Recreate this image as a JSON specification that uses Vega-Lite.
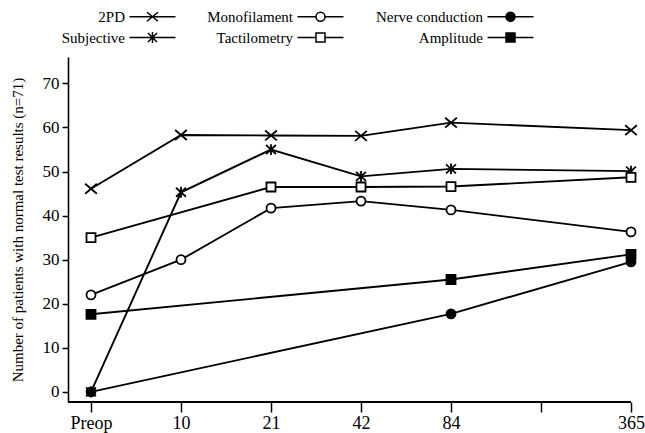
{
  "$schema": "https://vega.github.io/schema/vega-lite/v6.json",
  "width": 563,
  "height": 345,
  "autosize": "none",
  "padding": {"left": 68, "top": 57, "right": 14, "bottom": 31},
  "background": "white",
  "config": {"view": {"stroke": null}, "font": "Liberation Serif"},
  "data": {
    "values": [
      {"series": "2PD", "time": "Preop", "n": 46.1},
      {"series": "2PD", "time": "10", "n": 58.3},
      {"series": "2PD", "time": "21", "n": 58.2},
      {"series": "2PD", "time": "42", "n": 58.1},
      {"series": "2PD", "time": "84", "n": 61.1},
      {"series": "2PD", "time": "365", "n": 59.4},
      {"series": "Monofilament", "time": "Preop", "n": 22},
      {"series": "Monofilament", "time": "10", "n": 30},
      {"series": "Monofilament", "time": "21", "n": 41.7},
      {"series": "Monofilament", "time": "42", "n": 43.3},
      {"series": "Monofilament", "time": "84", "n": 41.3},
      {"series": "Monofilament", "time": "365", "n": 36.3},
      {"series": "Nerve conduction", "time": "Preop", "n": 0},
      {"series": "Nerve conduction", "time": "84", "n": 17.7},
      {"series": "Nerve conduction", "time": "365", "n": 29.5},
      {"series": "Subjective", "time": "Preop", "n": 0},
      {"series": "Subjective", "time": "10", "n": 45.3},
      {"series": "Subjective", "time": "21", "n": 55},
      {"series": "Subjective", "time": "42", "n": 48.9},
      {"series": "Subjective", "time": "84", "n": 50.6},
      {"series": "Subjective", "time": "365", "n": 50.1},
      {"series": "Tactilometry", "time": "Preop", "n": 35},
      {"series": "Tactilometry", "time": "21", "n": 46.5},
      {"series": "Tactilometry", "time": "42", "n": 46.5},
      {"series": "Tactilometry", "time": "84", "n": 46.6},
      {"series": "Tactilometry", "time": "365", "n": 48.7},
      {"series": "Amplitude", "time": "Preop", "n": 17.6},
      {"series": "Amplitude", "time": "84", "n": 25.5},
      {"series": "Amplitude", "time": "365", "n": 31.2}
    ]
  },
  "encoding": {
    "x": {
      "field": "time",
      "type": "ordinal",
      "scale": {"type": "point", "domain": ["Preop", "10", "21", "42", "84", " ", "365"], "range": [23, 563], "padding": 0},
      "axis": {"title": null, "domain": false, "labelAngle": 0, "labelFontSize": 18, "labelColor": "black", "tickColor": "black", "tickSize": 10, "tickWidth": 1.5, "labelPadding": 2, "grid": false}
    },
    "y": {
      "field": "n",
      "type": "quantitative",
      "scale": {"domain": [-2.3, 76], "nice": false, "zero": false},
      "axis": {
        "title": "Number of patients with normal test results (n=71)",
        "titleFontSize": 15,
        "titleFontWeight": "normal",
        "titleColor": "black",
        "titlePadding": 17,
        "values": [0, 10, 20, 30, 40, 50, 60, 70],
        "labelFontSize": 17,
        "labelColor": "black",
        "tickColor": "black",
        "tickSize": 6,
        "tickWidth": 1.5,
        "domainColor": "black",
        "domainWidth": 1.6,
        "labelPadding": 3,
        "grid": false
      }
    }
  },
  "layer": [
    {
      "mark": {"type": "rule", "color": "black", "strokeWidth": 1.6},
      "encoding": {"x": null, "y": {"datum": -2.3, "type": "quantitative"}}
    },
    {
      "mark": {"type": "line", "color": "black", "strokeWidth": 1.9},
      "encoding": {"detail": {"field": "series"}, "order": {"value": null}}
    },
    {
      "mark": {"type": "point", "filled": true, "stroke": "black", "strokeWidth": 1.8, "size": 81, "opacity": 1},
      "encoding": {
        "shape": {
          "field": "series",
          "type": "nominal",
          "legend": null,
          "scale": {
            "domain": ["2PD", "Monofilament", "Nerve conduction", "Subjective", "Tactilometry", "Amplitude"],
            "range": [
              "M-1.3,-1.1L1.3,1.1M-1.3,1.1L1.3,-1.1",
              "M1,0A1,1,0,1,1,-1,0A1,1,0,1,1,1,0Z",
              "M1,0A1,1,0,1,1,-1,0A1,1,0,1,1,1,0Z",
              "M-1.1,-1L1.1,1M-1.1,1L1.1,-1M0,-1.2L0,1.2",
              "M-1,-1H1V1H-1Z",
              "M-1,-1H1V1H-1Z"
            ]
          }
        },
        "fill": {
          "field": "series",
          "type": "nominal",
          "legend": null,
          "scale": {
            "domain": ["2PD", "Monofilament", "Nerve conduction", "Subjective", "Tactilometry", "Amplitude"],
            "range": ["black", "white", "black", "black", "white", "black"]
          }
        }
      }
    },
    {
      "transform": [{"filter": "false"}],
      "mark": {"type": "point", "filled": true, "stroke": "black", "strokeWidth": 1.7, "size": 100, "opacity": 1},
      "encoding": {
        "shape": {
          "field": "series",
          "type": "nominal",
          "scale": {
            "domain": ["2PD", "Monofilament", "Nerve conduction", "Subjective", "Tactilometry", "Amplitude"],
            "range": [
              "M-4.6,0H4.6M-1.1,-0.9L1.1,0.9M-1.1,0.9L1.1,-0.9",
              "M-4.6,0H-0.9M0.9,0H4.6M0.9,0A0.9,0.9,0,1,1,-0.9,0A0.9,0.9,0,1,1,0.9,0Z",
              "M-4.6,0H4.6M0.9,0A0.9,0.9,0,1,1,-0.9,0A0.9,0.9,0,1,1,0.9,0Z",
              "M-4.6,0H4.6M-0.9,-0.9L0.9,0.9M-0.9,0.9L0.9,-0.9M0,-1.1V1.1",
              "M-4.6,0H-0.9M0.9,0H4.6M-0.9,-0.9H0.9V0.9H-0.9Z",
              "M-4.6,0H4.6M-0.9,-0.9H0.9V0.9H-0.9Z"
            ]
          },
          "legend": {
            "title": null,
            "orient": "none",
            "legendX": 77,
            "legendY": -48,
            "columns": 3,
            "direction": "horizontal",
            "labelFontSize": 15,
            "labelColor": "black",
            "labelAlign": "right",
            "labelOffset": -35,
            "symbolSize": 100,
            "columnPadding": 28,
            "rowPadding": 4,
            "labelLimit": 300
          }
        },
        "fill": {
          "field": "series",
          "type": "nominal",
          "scale": {
            "domain": ["2PD", "Monofilament", "Nerve conduction", "Subjective", "Tactilometry", "Amplitude"],
            "range": ["black", "white", "black", "black", "white", "black"]
          }
        }
      }
    }
  ],
  "resolve": {"scale": {"shape": "independent", "fill": "independent"}}
}
